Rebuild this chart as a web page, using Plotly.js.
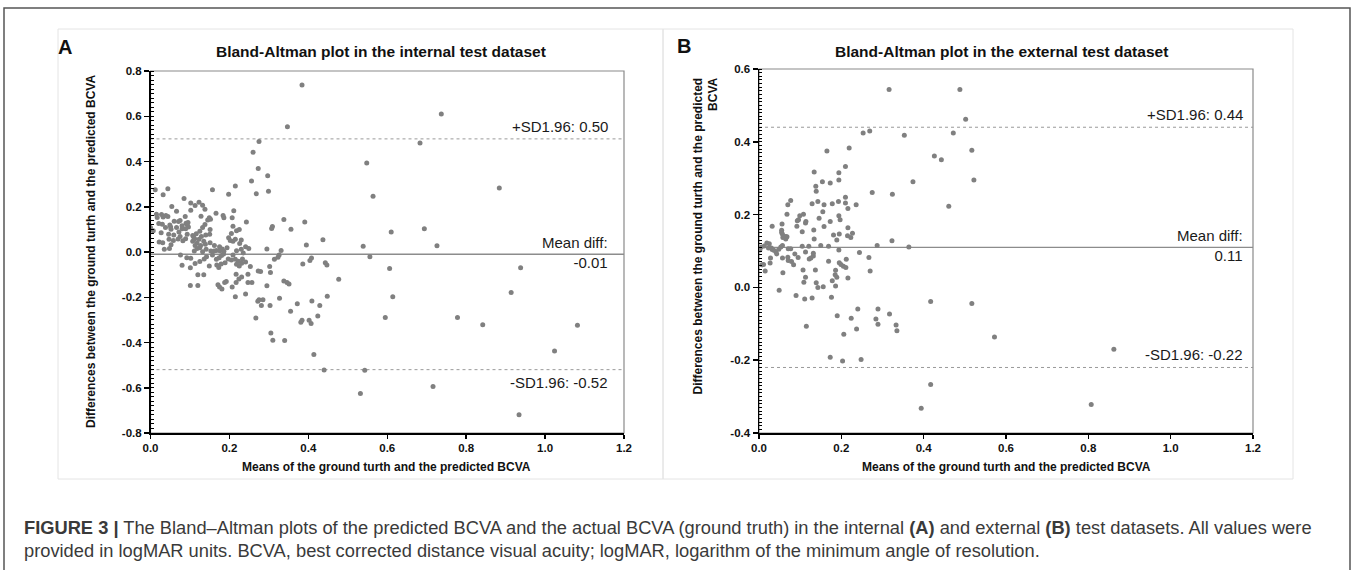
<!DOCTYPE html>
<html>
<head>
<meta charset="utf-8">
<script src="https://cdn.plot.ly/plotly-3.0.1.min.js"></script>
<style>
  html, body { margin: 0; padding: 0; background: #ffffff; }
  #chart { width: 1354px; height: 570px; }
</style>
</head>
<body>
<div id="chart"></div>
<script>
// ---------- Data ----------
// Panel A: internal test dataset (mean of GT & prediction, difference)
const aX = [0.384,0.347,0.737,0.683,0.548,0.884,0.564,0.610,0.694,0.539,0.726,0.556,0.606,0.938,0.477,0.614,0.914,0.595,0.778,0.842,1.082,1.024,0.543,0.532,0.716,0.934,
0.101,0.120,0.171,0.175,0.181,0.188,0.192,0.217,0.207,0.215,0.241,0.247,0.257,0.267,0.272,0.275,0.281,0.285,0.295,0.303,0.305,0.310,0.327,0.340,0.338,0.346,0.351,0.355,0.372,0.381,0.384,0.402,0.407,0.409,0.414,0.424,0.429,0.440,0.448,
0.307,0.309,0.338,0.356,0.391,0.295,0.331,0.326,0.323,0.314,0.302,0.304,0.386,0.404,0.408,0.395,0.437,0.443,0.447,
0.256,0.273,0.260,0.275,0.297,
0.012,0.044,0.157,0.215,0.032,0.198,0.085,0.268,0.299,
0.102,0.123,0.113,0.132,0.054,0.211,0.138,0.102,0.066,0.166,
0.015,0.028,0.039,0.017,0.044,0.032,0.088,0.128,0.149,0.184,0.186,0.207,0.243,
0.000,0.021,0.030,0.049,0.060,0.071,0.075,0.090,0.095,0.093,0.138,0.145,0.152,0.051,0.080,0.096,0.132,0.209,0.225,0.218,
0.007,0.038,0.052,0.066,0.080,0.089,0.125,0.151,0.116,0.072,0.027,0.046,0.059,0.075,0.093,0.107,0.129,0.140,0.150,0.198,0.205,0.215,0.230,
0.031,0.022,0.047,0.070,0.058,0.082,0.089,0.109,0.112,0.107,0.123,0.135,0.139,0.151,0.118,0.127,0.113,0.202,0.209,0.226,0.241,0.249,0.052,0.162,0.175,
0.048,0.035,0.111,0.118,0.132,0.141,0.153,0.161,0.167,0.176,0.182,0.186,0.194,0.218,0.230,0.235,0.125,0.076,0.092,0.102,0.157,0.180,0.185,0.209,
0.142,0.136,0.125,0.113,0.167,0.174,0.189,0.197,0.205,0.215,0.223,0.218,0.225,0.231,0.233,0.241,0.080,0.149,0.168,0.179,0.173,0.101,0.253,0.273,0.279,0.120,0.135,0.247,0.217,0.224,0.231];
const aY = [0.738,0.554,0.610,0.482,0.393,0.283,0.246,0.088,0.103,0.025,0.028,-0.021,-0.073,-0.070,-0.120,-0.198,-0.179,-0.290,-0.290,-0.321,-0.324,-0.438,-0.523,-0.625,-0.595,-0.719,
-0.148,-0.148,-0.145,-0.155,-0.164,-0.135,-0.130,-0.135,-0.155,-0.198,-0.186,-0.135,-0.135,-0.292,-0.218,-0.211,-0.237,-0.211,-0.149,-0.236,-0.358,-0.390,-0.204,-0.391,-0.128,-0.135,-0.141,-0.262,-0.229,-0.311,-0.302,-0.302,-0.316,-0.217,-0.453,-0.283,-0.236,-0.522,-0.196,
0.104,0.113,0.144,0.101,0.133,0.013,0.007,-0.013,-0.023,-0.032,-0.064,-0.091,-0.053,-0.038,-0.026,0.031,0.054,-0.047,-0.057,
0.314,0.369,0.441,0.488,0.337,
0.275,0.280,0.275,0.292,0.253,0.255,0.237,0.258,0.268,
0.217,0.220,0.205,0.207,0.201,0.182,0.189,0.185,0.180,0.171,
0.167,0.166,0.161,0.152,0.157,0.155,0.157,0.158,0.151,0.161,0.151,0.151,0.133,
0.108,0.126,0.123,0.119,0.136,0.135,0.139,0.127,0.130,0.122,0.122,0.141,0.145,0.111,0.116,0.111,0.108,0.114,0.100,0.094,
0.094,0.108,0.101,0.108,0.103,0.103,0.092,0.100,0.081,0.088,0.085,0.078,0.075,0.069,0.079,0.073,0.069,0.075,0.079,0.063,0.082,0.056,0.053,
0.041,0.044,0.056,0.057,0.051,0.050,0.059,0.067,0.059,0.048,0.056,0.047,0.034,0.041,0.040,0.029,0.029,0.051,0.047,0.038,0.023,0.016,0.032,0.029,0.023,
0.015,0.012,0.004,0.015,0.001,0.012,0.004,0.004,0.007,0.006,0.013,0.003,0.019,0.006,0.012,-0.004,0.019,-0.013,-0.025,-0.028,-0.013,-0.015,-0.009,-0.013,
-0.021,-0.031,-0.042,-0.051,-0.032,-0.025,-0.047,-0.031,-0.035,-0.032,-0.041,-0.054,-0.062,-0.050,-0.031,-0.044,-0.059,-0.062,-0.057,-0.053,-0.069,-0.070,-0.064,-0.084,-0.086,-0.100,-0.101,-0.098,-0.098,-0.119,-0.110];

// Panel B: external test dataset
const bX = [0.316,0.488,0.502,0.253,0.269,0.353,0.472,
0.165,0.219,0.517,0.426,0.443,0.134,0.210,0.194,0.522,0.154,0.173,0.194,0.374,0.138,0.139,0.275,0.324,
0.077,0.070,0.129,0.143,0.158,0.178,0.193,0.210,0.210,0.236,0.216,0.461,0.155,0.068,0.108,0.099,0.146,0.096,0.093,0.114,0.113,0.173,0.194,0.197,
0.056,0.032,0.092,0.158,0.216,0.055,0.055,0.105,0.133,0.065,0.068,0.057,0.058,0.065,0.134,0.181,0.195,0.189,0.215,0.223,0.227,0.323,
0.019,0.025,0.013,0.006,0.030,0.023,0.002,0.032,0.036,0.041,0.043,0.048,0.053,0.057,0.071,0.077,0.105,0.121,0.150,0.169,0.113,0.132,0.132,0.087,0.095,0.122,0.126,0.194,0.212,0.244,0.267,0.287,0.364,
0.007,0.011,0.015,0.027,0.028,0.057,0.070,0.071,0.079,0.084,0.058,0.049,0.107,0.113,0.109,0.137,0.139,0.143,0.156,0.169,0.186,0.185,0.189,0.178,0.186,0.195,0.199,0.205,0.211,0.216,0.270,
0.090,0.111,0.129,0.176,0.417,0.517,0.240,0.289,0.317,0.190,0.224,0.284,
0.289,0.333,0.335,0.115,0.237,0.206,0.173,0.203,0.248,0.417,0.394,
0.572,0.862,0.807];
const bY = [0.544,0.544,0.462,0.424,0.430,0.418,0.424,
0.375,0.383,0.377,0.361,0.351,0.317,0.332,0.315,0.295,0.290,0.287,0.295,0.290,0.278,0.264,0.261,0.256,
0.239,0.227,0.230,0.236,0.227,0.230,0.236,0.232,0.248,0.227,0.217,0.223,0.208,0.201,0.201,0.197,0.190,0.186,0.183,0.181,0.177,0.181,0.197,0.186,
0.174,0.168,0.168,0.167,0.164,0.157,0.151,0.153,0.158,0.140,0.139,0.146,0.137,0.133,0.133,0.144,0.147,0.130,0.142,0.137,0.149,0.128,
0.122,0.120,0.114,0.111,0.108,0.108,0.103,0.104,0.102,0.098,0.092,0.105,0.111,0.115,0.106,0.106,0.113,0.113,0.115,0.113,0.097,0.094,0.086,0.092,0.082,0.078,0.081,0.103,0.077,0.096,0.082,0.115,0.111,
0.062,0.063,0.045,0.067,0.081,0.081,0.083,0.074,0.071,0.062,0.040,-0.008,0.048,0.028,0.014,0.048,0.013,0.000,0.002,0.072,0.047,0.035,0.028,0.018,0.004,0.068,0.063,0.058,0.055,0.026,0.045,
-0.022,-0.032,-0.029,-0.027,-0.039,-0.044,-0.059,-0.059,-0.073,-0.078,-0.085,-0.087,
-0.101,-0.103,-0.119,-0.107,-0.114,-0.129,-0.192,-0.202,-0.198,-0.267,-0.332,
-0.136,-0.170,-0.322];

// Summary statistics shown in the plots
const aMean = -0.01, aUpper = 0.50, aLower = -0.52;
const bMean = 0.11,  bUpper = 0.44, bLower = -0.22;

// Tick labels
const xTicks = [0, 0.2, 0.4, 0.6, 0.8, 1.0, 1.2];
const xTickText = ["0.0","0.2","0.4","0.6","0.8","1.0","1.2"];
const aYTicks = [-0.8,-0.6,-0.4,-0.2,0,0.2,0.4,0.6,0.8];
const aYTickText = ["-0.8","-0.6","-0.4","-0.2","0.0","0.2","0.4","0.6","0.8"];
const bYTicks = [-0.4,-0.2,0,0.2,0.4,0.6];
const bYTickText = ["-0.4","-0.2","0.0","0.2","0.4","0.6"];

// Text
const titleA = "Bland-Altman plot in the internal test dataset";
const titleB = "Bland-Altman plot in the external test dataset";
const xTitle = "Means of the ground turth and the predicted BCVA";
const yTitleA = "Differences between the ground turth and the predicted BCVA";
const yTitleB = "Differences between the ground turth and the predicted<br>BCVA";
const caption1 = "<b>FIGURE 3 |</b> The Bland\u2013Altman plots of the predicted BCVA and the actual BCVA (ground truth) in the internal <b>(A)</b> and external <b>(B)</b> test datasets. All values were";
const caption2 = "provided in logMAR units. BCVA, best corrected distance visual acuity; logMAR, logarithm of the minimum angle of resolution.";

// ---------- Layout helpers ----------
const W = 1354, H = 570;
const FONT = "Arial, 'Liberation Sans', Helvetica, sans-serif";
const px = v => v / W;
const py = v => 1 - v / H;

function xAxis(domain, anchor) {
  return {
    domain: domain, anchor: anchor, range: [0, 1.2],
    tickmode: 'array', tickvals: xTicks, ticktext: xTickText,
    showline: true, linecolor: '#000', linewidth: 1.5,
    ticks: 'outside', ticklen: 4, tickwidth: 1.5, tickcolor: '#000',
    showgrid: false, zeroline: false, fixedrange: true,
    tickfont: { family: FONT, size: 11.5, color: '#111', weight: 'bold' }
  };
}
function yAxis(domain, anchor, range, tv, tt, minorStep) {
  return {
    domain: domain, anchor: anchor, range: range,
    tickmode: 'array', tickvals: tv, ticktext: tt,
    showline: true, linecolor: '#000', linewidth: 1.5,
    ticks: 'outside', ticklen: 5, tickwidth: 1.5, tickcolor: '#000',
    minor: { tickmode: 'linear', tick0: 0, dtick: minorStep, ticks: 'inside', ticklen: 3, tickwidth: 1, tickcolor: '#000', showgrid: false },
    showgrid: false, zeroline: false, fixedrange: true,
    tickfont: { family: FONT, size: 11.5, color: '#111', weight: 'bold' }
  };
}

const markerStyle = { color: '#808080', size: 5, line: { width: 0 } };

const traces = [
  { type: 'scatter', mode: 'markers', x: aX, y: aY, xaxis: 'x', yaxis: 'y', marker: markerStyle, hoverinfo: 'skip' },
  { type: 'scatter', mode: 'markers', x: bX, y: bY, xaxis: 'x2', yaxis: 'y2', marker: markerStyle, hoverinfo: 'skip' }
];

function hline(xr, yr, val, dash, color, width) {
  return { type: 'line', xref: xr + ' domain', yref: yr, x0: 0, x1: 1, y0: val, y1: val,
           line: { color: color, width: width, dash: dash }, layer: 'below' };
}
function plotBox(xr, yr) {
  return { type: 'rect', xref: xr + ' domain', yref: yr + ' domain', x0: 0, x1: 1, y0: 0, y1: 1,
           line: { color: '#8a8a8a', width: 1.2 }, fillcolor: 'rgba(0,0,0,0)', layer: 'below' };
}

const shapes = [
  // outer figure frame
  { type: 'rect', xref: 'paper', yref: 'paper', x0: px(4), x1: px(1350), y0: py(600), y1: py(8),
    line: { color: '#555', width: 1.5 }, fillcolor: 'rgba(0,0,0,0)', layer: 'below' },
  // panel boxes
  { type: 'rect', xref: 'paper', yref: 'paper', x0: px(58), x1: px(663), y0: py(479), y1: py(29),
    line: { color: '#e4e4e4', width: 1 }, fillcolor: 'rgba(0,0,0,0)', layer: 'below' },
  { type: 'rect', xref: 'paper', yref: 'paper', x0: px(663), x1: px(1293), y0: py(479), y1: py(29),
    line: { color: '#e4e4e4', width: 1 }, fillcolor: 'rgba(0,0,0,0)', layer: 'below' },
  plotBox('x', 'y'), plotBox('x2', 'y2'),
  hline('x', 'y', aMean, 'solid', '#8c8c8c', 1.3),
  hline('x', 'y', aUpper, 'dot', '#9a9a9a', 1),
  hline('x', 'y', aLower, 'dot', '#9a9a9a', 1),
  hline('x2', 'y2', bMean, 'solid', '#8c8c8c', 1.3),
  hline('x2', 'y2', bUpper, 'dot', '#9a9a9a', 1),
  hline('x2', 'y2', bLower, 'dot', '#9a9a9a', 1)
];

const f = v => v.toFixed(2);
const annFont = { family: FONT, size: 15, color: '#1a1a1a' };
const bold = (size) => ({ family: FONT, size: size, color: '#111', weight: 'bold' });

const annotations = [
  // panel letters
  { text: 'A', xref: 'paper', yref: 'paper', x: px(65), y: py(47), xanchor: 'center', yanchor: 'middle', showarrow: false, font: bold(20) },
  { text: 'B', xref: 'paper', yref: 'paper', x: px(684), y: py(46), xanchor: 'center', yanchor: 'middle', showarrow: false, font: bold(20) },
  // titles
  { text: titleA, xref: 'paper', yref: 'paper', x: px(381), y: py(51), xanchor: 'center', yanchor: 'middle', showarrow: false, font: bold(15.5) },
  { text: titleB, xref: 'paper', yref: 'paper', x: px(1001), y: py(51), xanchor: 'center', yanchor: 'middle', showarrow: false, font: bold(15.5) },
  // axis titles
  { text: xTitle, xref: 'paper', yref: 'paper', x: px(386), y: py(467), xanchor: 'center', yanchor: 'middle', showarrow: false, font: bold(12) },
  { text: xTitle, xref: 'paper', yref: 'paper', x: px(1006), y: py(467), xanchor: 'center', yanchor: 'middle', showarrow: false, font: bold(12) },
  { text: yTitleA, xref: 'paper', yref: 'paper', x: px(91), y: py(252), xanchor: 'center', yanchor: 'middle', textangle: -90, showarrow: false, font: bold(12) },
  { text: yTitleB, xref: 'paper', yref: 'paper', x: px(705), y: py(76), xanchor: 'center', yanchor: 'top', textangle: -90, align: 'right', showarrow: false, font: bold(12) },
  // Panel A limit labels
  { text: '+SD1.96: ' + f(aUpper), xref: 'x domain', yref: 'y', x: 0.971, y: aUpper, xanchor: 'right', yanchor: 'bottom', yshift: 2, showarrow: false, font: annFont },
  { text: 'Mean diff:<br>' + f(aMean), xref: 'x domain', yref: 'y', x: 0.971, y: aMean, xanchor: 'right', yanchor: 'middle', yshift: 2, align: 'right', showarrow: false, font: annFont },
  { text: '-SD1.96: ' + f(aLower), xref: 'x domain', yref: 'y', x: 0.971, y: aLower, xanchor: 'right', yanchor: 'top', yshift: -2, showarrow: false, font: annFont },
  // Panel B limit labels
  { text: '+SD1.96: ' + f(bUpper), xref: 'x2 domain', yref: 'y2', x: 0.984, y: bUpper, xanchor: 'right', yanchor: 'bottom', yshift: 2, showarrow: false, font: annFont },
  { text: 'Mean diff:<br>' + f(bMean), xref: 'x2 domain', yref: 'y2', x: 0.984, y: bMean, xanchor: 'right', yanchor: 'middle', yshift: 2, align: 'right', showarrow: false, font: annFont },
  { text: '-SD1.96: ' + f(bLower), xref: 'x2 domain', yref: 'y2', x: 0.984, y: bLower, xanchor: 'right', yanchor: 'bottom', yshift: 2, showarrow: false, font: annFont },
  // caption
  { text: caption1, xref: 'paper', yref: 'paper', x: px(22), y: py(527), xanchor: 'left', yanchor: 'middle', showarrow: false, font: { family: FONT, size: 18.3, color: '#3a3a3a' } },
  { text: caption2, xref: 'paper', yref: 'paper', x: px(22), y: py(550), xanchor: 'left', yanchor: 'middle', showarrow: false, font: { family: FONT, size: 18.3, color: '#3a3a3a' } }
];

const layout = {
  width: W, height: H,
  margin: { l: 0, r: 0, t: 0, b: 0 },
  paper_bgcolor: '#ffffff', plot_bgcolor: 'rgba(0,0,0,0)',
  showlegend: false,
  font: { family: FONT, color: '#111' },
  xaxis: xAxis([px(150.5), px(624)], 'y'),
  yaxis: yAxis([py(433), py(71)], 'x', [-0.8, 0.8], aYTicks, aYTickText, 0.02),
  xaxis2: xAxis([px(759), px(1253)], 'y2'),
  yaxis2: yAxis([py(433), py(69)], 'x2', [-0.4, 0.6], bYTicks, bYTickText, 0.01),
  shapes: shapes,
  annotations: annotations
};

Plotly.newPlot('chart', traces, layout, { staticPlot: true, displayModeBar: false });
</script>
</body>
</html>
